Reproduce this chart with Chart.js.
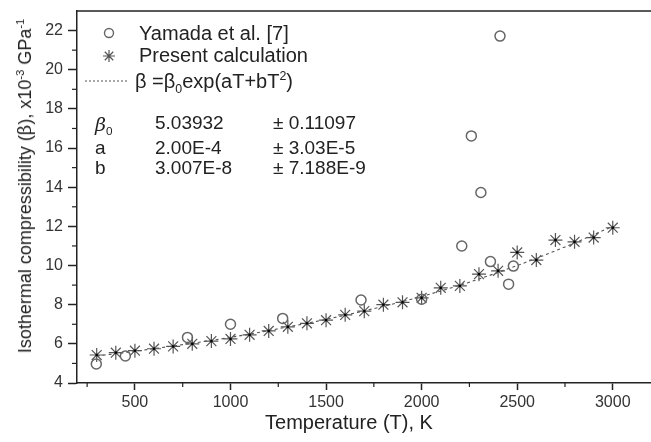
<!DOCTYPE html>
<html>
<head>
<meta charset="utf-8">
<script src="https://cdn.jsdelivr.net/npm/chart.js@4.4.0/dist/chart.umd.min.js"></script>
<style>
  body { margin: 0; background: #fff; }
  #wrap { position: relative; width: 651px; height: 442px; font-family: "Liberation Sans", Arial, sans-serif; color: #222; }
  canvas { position: absolute; left: 0; top: 0; }
  .lbl { position: absolute; white-space: nowrap; line-height: 1; }
  .lbl sup, .lbl sub { font-size: 62%; line-height: 0; }
  #ytitle { left: 25px; top: 186px; font-size: 18px; transform: translate(-50%, -50%) rotate(-90deg); }
  #xtitle { left: 349px; top: 422px; font-size: 20px; transform: translate(-50%, -50%); }
  .leg { font-size: 20px; transform: translateY(-50%); }
  .tab { font-size: 19px; transform: translateY(-50%); }
  .beta { font-family: "DejaVu Serif", serif; }
</style>
</head>
<body>
<div id="wrap">
  <canvas id="chart" width="651" height="442"></canvas>
  <div class="lbl" id="ytitle">Isothermal compressibility (<span class="beta">β</span>), x10<sup>-3</sup> GPa<sup>-1</sup></div>
  <div class="lbl" id="xtitle">Temperature (T), K</div>

  <div class="lbl leg" style="left:139px; top:33px;">Yamada et al. [7]</div>
  <div class="lbl leg" style="left:139px; top:55px;">Present calculation</div>
  <div class="lbl leg" style="left:135px; top:81px;">β =β<sub>0</sub>exp(aT+bT<sup>2</sup>)</div>

  <div class="lbl tab" style="left:95px; top:124px;"><i class="beta">β</i><sub>0</sub></div>
  <div class="lbl tab" style="left:155px; top:122px;">5.03932</div>
  <div class="lbl tab" style="left:273px; top:122px;">± 0.11097</div>
  <div class="lbl tab" style="left:95px; top:147px;">a</div>
  <div class="lbl tab" style="left:155px; top:147px;">2.00E-4</div>
  <div class="lbl tab" style="left:273px; top:147px;">± 3.03E-5</div>
  <div class="lbl tab" style="left:95px; top:167px;">b</div>
  <div class="lbl tab" style="left:155px; top:167px;">3.007E-8</div>
  <div class="lbl tab" style="left:273px; top:167px;">± 7.188E-9</div>
</div>

<script>
// --- data ---
var presentT = [300, 400, 500, 600, 700, 800, 900, 1000, 1100, 1200, 1300, 1400, 1500, 1600,
                1700, 1800, 1900, 2000, 2100, 2200, 2300, 2400, 2500, 2600, 2700, 2800, 2900, 3000];
var presentB = [5.43, 5.55, 5.65, 5.75, 5.87, 6.00, 6.14, 6.25, 6.46, 6.66, 6.87, 7.05, 7.21, 7.48,
                7.67, 8.00, 8.12, 8.35, 8.86, 8.96, 9.56, 9.73, 10.67, 10.28, 11.30, 11.21, 11.43, 11.93];

var yamadaT = [298, 450, 775, 1000, 1273, 1683, 2000, 2210, 2260, 2310, 2360, 2410, 2455, 2480];
var yamadaB = [4.97, 5.38, 6.33, 7.00, 7.30, 8.24, 8.28, 11.00, 16.62, 13.73, 10.20, 21.72, 9.05, 9.97];

// dashed fit curve
var fitT = [300, 500, 750, 1000, 1250, 1500, 1750, 2000, 2250, 2500, 2750, 3000];
var fitB = [5.38, 5.62, 5.96, 6.33, 6.77, 7.25, 7.80, 8.42, 9.15, 10.00, 10.95, 12.00];

var xTicks = [500, 1000, 1500, 2000, 2500, 3000];
var xMinor = [250, 750, 1250, 1750, 2250, 2750];
var yTicks = [4, 6, 8, 10, 12, 14, 16, 18, 20, 22];
var yMinor = [5, 7, 9, 11, 13, 15, 17, 19, 21];

function pts(xs, ys) {
	return xs.map(function(x, i) { return { x: x, y: ys[i] }; });
}

var ink = '#222';

// --- minor ticks, top frame and legend symbols ---
var extras = {
	id: 'extras',
	afterDraw: function(chart) {
		var ctx = chart.ctx, a = chart.chartArea;
		var xs = chart.scales.x, ys = chart.scales.y;
		ctx.save();
		ctx.strokeStyle = ink;
		ctx.lineWidth = 1.5;
		ctx.beginPath();
		ctx.moveTo(a.left, a.top);
		ctx.lineTo(a.right, a.top);
		ctx.stroke();

		ctx.lineWidth = 1.2;
		xMinor.forEach(function(v) {
			var px = xs.getPixelForValue(v);
			ctx.beginPath(); ctx.moveTo(px, a.bottom); ctx.lineTo(px, a.bottom + 4); ctx.stroke();
		});
		yMinor.forEach(function(v) {
			var py = ys.getPixelForValue(v);
			ctx.beginPath(); ctx.moveTo(a.left, py); ctx.lineTo(a.left - 5, py); ctx.stroke();
		});

		// legend symbols
		ctx.strokeStyle = '#666';
		ctx.lineWidth = 1.4;
		ctx.beginPath(); ctx.arc(109, 33, 4.5, 0, Math.PI * 2); ctx.stroke();
		ctx.strokeStyle = '#555';
		ctx.lineWidth = 1.2;
		Chart.helpers.drawPoint(ctx, { pointStyle: 'star', radius: 6, borderWidth: 1.2 }, 109, 56);
		ctx.lineWidth = 1;
		ctx.setLineDash([2, 2]);
		ctx.beginPath(); ctx.moveTo(85, 81); ctx.lineTo(128, 81); ctx.stroke();
		ctx.restore();
	}
};

var chart = new Chart(document.getElementById('chart').getContext('2d'), {
	type: 'scatter',
	data: {
		datasets: [{
			data: pts(yamadaT, yamadaB),
			pointStyle: 'circle',
			pointRadius: 5,
			borderColor: '#666',
			backgroundColor: 'rgba(0,0,0,0)',
			borderWidth: 1.5
		}, {
			data: pts(presentT, presentB),
			pointStyle: 'rect',
			pointRadius: 1.6,
			borderWidth: 0,
			backgroundColor: '#000'
		}, {
			data: pts(presentT, presentB),
			pointStyle: 'star',
			pointRadius: 7,
			borderColor: '#555',
			borderWidth: 1.2
		}, {
			data: pts(fitT, fitB),
			showLine: true,
			pointRadius: 0,
			borderColor: '#555',
			borderWidth: 1.1,
			borderDash: [3, 3],
			cubicInterpolationMode: 'monotone'
		}]
	},
	options: {
		responsive: false,
		animation: false,
		layout: { autoPadding: false, padding: { top: 11, left: 0, right: 0, bottom: 0 } },
		plugins: { legend: { display: false }, tooltip: { enabled: false } },
		scales: {
			x: {
				type: 'linear',
				min: 197,
				max: 3200,
				afterBuildTicks: function(s) { s.ticks = xTicks.map(function(v) { return { value: v }; }); },
				afterFit: function(s) { s.height = 59; s.paddingLeft = 0; s.paddingRight = 0; },
				grid: { drawOnChartArea: false, tickLength: 7, tickColor: ink, tickWidth: 1.5 },
				border: { color: ink, width: 1.5 },
				ticks: {
					color: '#333', padding: 3, maxRotation: 0,
					font: { family: 'Liberation Sans', size: 16 },
					callback: function(v) { return String(v); }
				}
			},
			y: {
				min: 4,
				max: 23,
				afterBuildTicks: function(s) { s.ticks = yTicks.map(function(v) { return { value: v }; }); },
				afterFit: function(s) { s.width = 77; s.paddingTop = 0; s.paddingBottom = 0; },
				grid: { drawOnChartArea: false, tickLength: 9, tickColor: ink, tickWidth: 1.5 },
				border: { color: ink, width: 1.5 },
				ticks: {
					color: '#333', padding: 5,
					font: { family: 'Liberation Sans', size: 16 },
					callback: function(v) { return String(v); }
				}
			}
		}
	},
	plugins: [extras]
});
</script>
</body>
</html>
